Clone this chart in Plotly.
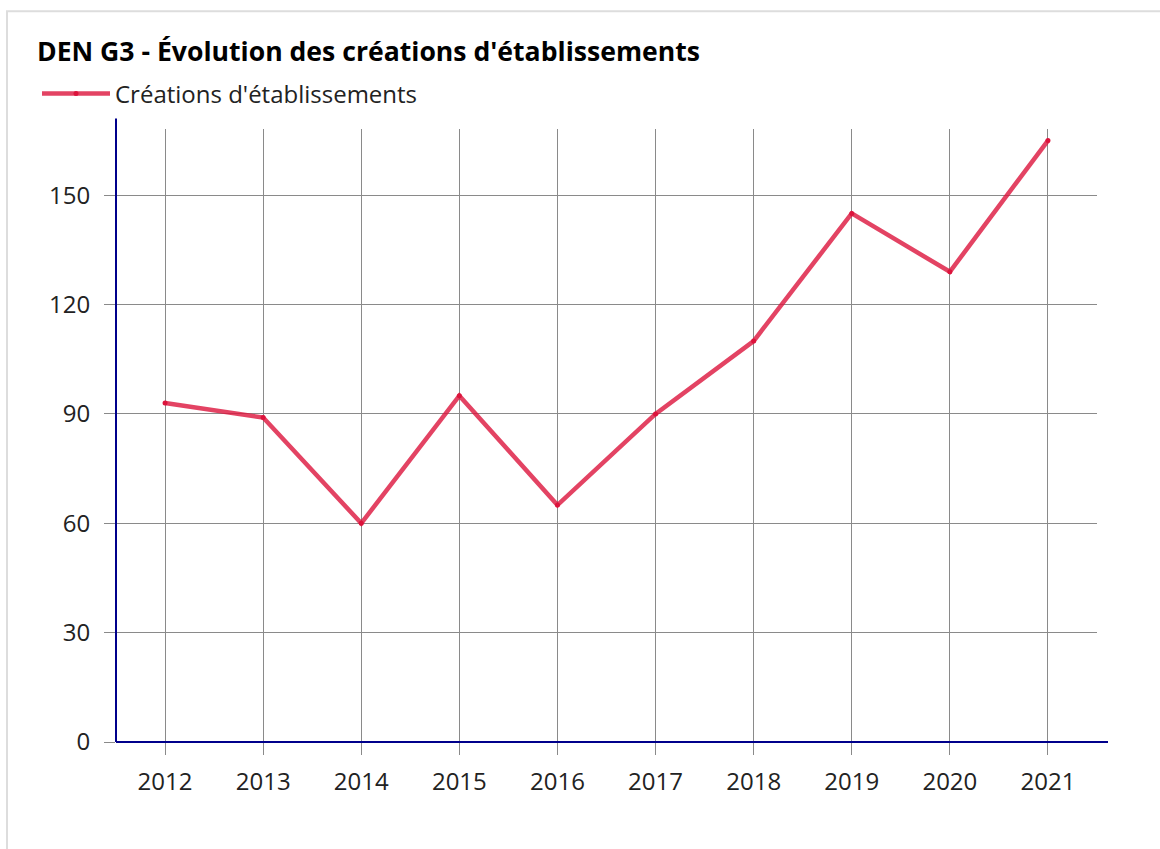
import plotly.graph_objects as go

years = ["2012", "2013", "2014", "2015", "2016", "2017", "2018", "2019", "2020", "2021"]
creations = [93, 89, 60, 95, 65, 90, 110, 145, 129, 165]
series_name = "Créations d'établissements"
title_text = "DEN G3 - Évolution des créations d'établissements"
y_ticks = [0, 30, 60, 90, 120, 150]

W, H = 1160, 849
L, R, T, B = 116, 63, 124, 107
pw, ph = W - L - R, H - T - B

def px_x(p):
    return (p - L) / pw

def px_y(p):
    return (H - B - p) / ph

FONT = "Open Sans"
TXT = "#222"

fig = go.Figure()
fig.add_trace(go.Scatter(
    x=years, y=creations, name=series_name, mode="lines+markers",
    line=dict(color="rgba(220,20,60,0.8)", width=4.5),
    marker=dict(color="crimson", size=5),
))

grid_col = "#8a8a8a"
fig.update_layout(
    width=W, height=H,
    margin=dict(l=L, r=R, t=T, b=B),
    paper_bgcolor="white", plot_bgcolor="white",
    font=dict(family=FONT, size=24, color=TXT),
    title=dict(text="<b>" + title_text + "</b>", x=37 / W, xanchor="left",
               xref="container", yref="container", y=1 - 52 / H, yanchor="middle",
               font=dict(family=FONT, size=26.6, color="black")),
    showlegend=True,
    legend=dict(orientation="h", xref="container", yref="container",
                x=37 / W, xanchor="left", y=1 - 94 / H, yanchor="middle",
                font=dict(family=FONT, size=24, color=TXT),
                itemwidth=68, bgcolor="rgba(0,0,0,0)"),
    xaxis=dict(type="category", range=[-0.5, len(years) - 0.5],
               showgrid=True, gridcolor=grid_col, gridwidth=1,
               ticks="outside", ticklen=12, tickcolor=grid_col, tickwidth=1,
               ticklabelstandoff=6,
               showline=False, zeroline=False, tickfont=dict(size=24, color=TXT)),
    yaxis=dict(range=[0, 168.3], tickvals=y_ticks,
               showgrid=True, gridcolor=grid_col, gridwidth=1,
               ticks="outside", ticklen=11, tickcolor=grid_col, tickwidth=1,
               ticklabelstandoff=9,
               showline=False, zeroline=False, tickfont=dict(size=24, color=TXT)),
    shapes=[
        dict(type="rect", xref="paper", yref="paper",
             x0=px_x(7), x1=px_x(1200), y0=px_y(900), y1=px_y(6),
             line=dict(color="#dddddd", width=2), fillcolor="rgba(0,0,0,0)", layer="below"),
        dict(type="line", xref="paper", yref="paper",
             x0=0, x1=0, y0=0, y1=px_y(114),
             line=dict(color="#00008b", width=2), layer="above"),
        dict(type="line", xref="paper", yref="paper",
             x0=0, x1=px_x(1108), y0=0, y1=0,
             line=dict(color="#00008b", width=2), layer="above"),
    ],
)

fig.write_html("out.html", config={"displayModeBar": False},
               post_script="document.body.style.margin='0';document.body.style.overflow='hidden';")
